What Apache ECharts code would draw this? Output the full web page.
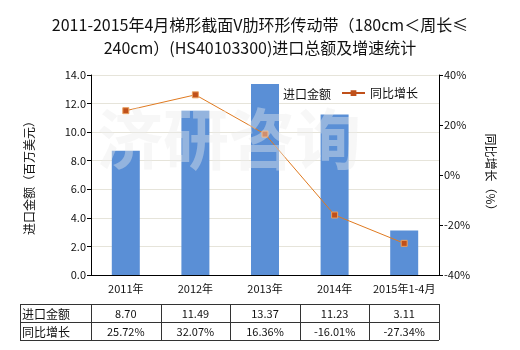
<!DOCTYPE html>
<html><head><meta charset="utf-8">
<script src="https://cdn.jsdelivr.net/npm/echarts@6/dist/echarts.min.js"></script>
<style>html,body{margin:0;padding:0;background:#fff}#c{width:520px;height:350px}</style>
</head><body><div id="c"></div>
<script>
var categories = ['2011年','2012年','2013年','2014年','2015年1-4月'];
var importValues = [8.70, 11.49, 13.37, 11.23, 3.11];
var growthValues = [25.72, 32.07, 16.36, -16.01, -27.34];
var importLabels = ['8.70','11.49','13.37','11.23','3.11'];
var growthLabels = ['25.72%','32.07%','16.36%','-16.01%','-27.34%'];
var seriesNames = ['进口金额','同比增长'];

var FONT = '"Noto Sans CJK SC","Noto Sans",sans-serif';
var gL = 91, gR = 439, gT = 75, gB = 275;
var tblL = 20, tblTop = 304, rowH = 18;
var colW = (gR - gL) / categories.length;

var graphics = [];
// watermark
graphics.push({type:'text', left: 97, top: 106, z: 100, silent:true,
  style:{text:'济研咨询', font:'bold 66px "Noto Sans CJK SC"', fill:'rgba(236,236,236,0.4)', letterSpacing: 22}});
// table
var rows = [[seriesNames[0]].concat(importLabels),[seriesNames[1]].concat(growthLabels)];
var lineStyle = {stroke:'#333', lineWidth:1};
for (var r = 0; r <= 2; r++) {
  graphics.push({type:'line', shape:{x1:tblL, y1:tblTop + r*rowH + 0.5, x2:gR, y2:tblTop + r*rowH + 0.5}, style:lineStyle});
}
var xs = [tblL];
for (var i = 0; i <= categories.length; i++) xs.push(gL + i*colW);
xs.forEach(function(x){
  graphics.push({type:'line', shape:{x1:Math.round(x)+0.5, y1:tblTop, x2:Math.round(x)+0.5, y2:tblTop+2*rowH}, style:lineStyle});
});
rows.forEach(function(row, ri){
  row.forEach(function(txt, ci){
    var cy = tblTop + ri*rowH + rowH/2 + 1;
    if (ci === 0) {
      graphics.push({type:'text', x: tblL + 2, y: cy, style:{text:txt, font:'12px '+FONT, fill:'#111', textVerticalAlign:'middle', verticalAlign:'middle'}});
    } else {
      graphics.push({type:'text', x: gL + (ci-0.5)*colW, y: cy, style:{text:txt, font:'11px '+FONT, fill:'#111', textAlign:'center', align:'center', textVerticalAlign:'middle', verticalAlign:'middle'}});
    }
  });
});

var chart = echarts.init(document.getElementById('c'), null, {renderer:'canvas'});
chart.setOption({
  animation:false,
  backgroundColor:'#fff',
  title:{text:'2011-2015年4月梯形截面V肋环形传动带（180cm＜周长≤\n240cm）(HS40103300)进口总额及增速统计', left:'center', top:8,
    textStyle:{fontSize:16, fontWeight:'normal', color:'#111', fontFamily:FONT, lineHeight:23}},
  legend:[{top:82, left:258, itemWidth:15, itemHeight:14, textStyle:{fontSize:12, color:'#111', fontFamily:FONT},
    data:[{name:seriesNames[0], icon:'rect'}]},
    {top:82, left:337, itemWidth:23, itemHeight:14, textStyle:{fontSize:12, color:'#111', fontFamily:FONT},
    data:[{name:seriesNames[1], icon:'path://M0,6L24,6L24,8L0,8Z M9,4L15,4L15,10L9,10Z', itemStyle:{color:'#c0501a', borderWidth:0}}]}],
  grid:{left:gL, right:520-gR, top:gT, bottom:350-gB},
  xAxis:{type:'category', data:categories,
    axisLine:{lineStyle:{color:'#000'}}, axisTick:{alignWithLabel:true, length:4, lineStyle:{color:'#000'}},
    axisLabel:{color:'#111', fontSize:11, fontFamily:FONT, margin:8, interval:0}},
  yAxis:[{type:'value', min:0, max:14, interval:2, name:'进口金额（百万美元）', nameLocation:'middle', nameGap:56, nameRotate:90,
    nameTextStyle:{fontSize:12, color:'#111', fontFamily:FONT},
    axisLine:{show:true, lineStyle:{color:'#000'}}, axisTick:{show:true, length:4, lineStyle:{color:'#000'}},
    axisLabel:{color:'#111', fontSize:11, fontFamily:FONT, margin:5, formatter:function(v){return v.toFixed(1);}},
    splitLine:{lineStyle:{color:'#e6e4da'}}},
   {type:'value', min:-40, max:40, interval:20, name:'同比增长（%）', nameLocation:'middle', nameGap:46, nameRotate:-90,
    nameTextStyle:{fontSize:12, color:'#111', fontFamily:FONT},
    axisLine:{show:true, lineStyle:{color:'#000'}}, axisTick:{show:true, length:4, lineStyle:{color:'#000'}},
    axisLabel:{color:'#111', fontSize:11, fontFamily:FONT, margin:5, formatter:'{value}%'},
    splitLine:{show:false}}],
  series:[{name:seriesNames[0], type:'bar', data:importValues, barWidth:28, itemStyle:{color:'#5a8fd6'}},
    {name:seriesNames[1], type:'line', yAxisIndex:1, data:growthValues, symbol:'rect', symbolSize:6,
     lineStyle:{color:'#e07a20', width:1}, itemStyle:{color:'#c0501a', borderColor:'#e8a060', borderWidth:1}}],
  graphic:graphics
});
</script></body></html>
